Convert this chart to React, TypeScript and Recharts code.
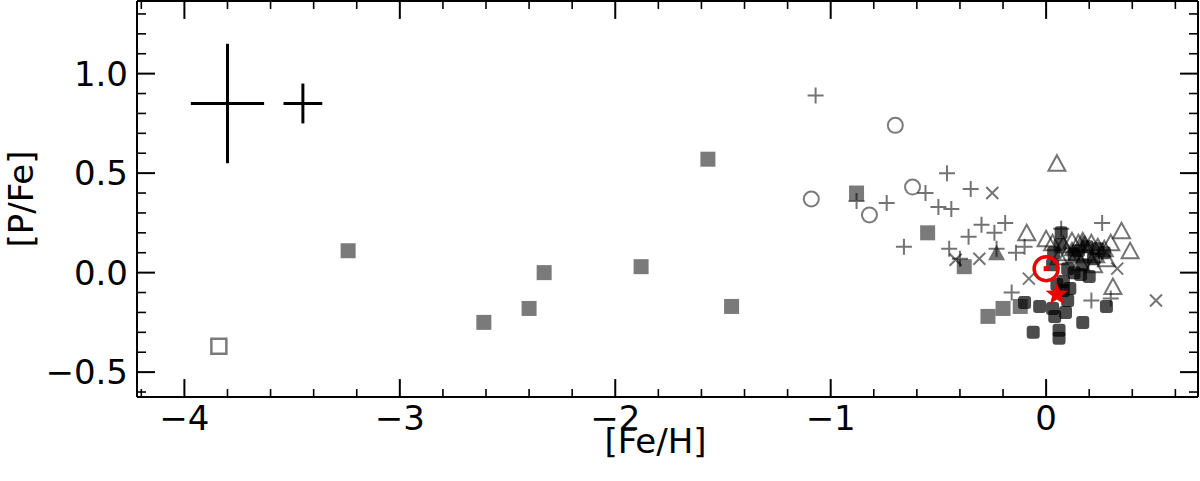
import { ScatterChart, Scatter, XAxis, YAxis, ErrorBar, ReferenceLine } from "recharts";

const FONT = "DejaVu Sans, sans-serif";

const X_DOMAIN: [number, number] = [-4.22, 0.705];
const Y_DOMAIN: [number, number] = [-0.625, 1.365];

// tick values
const xMajor = [-4, -3, -2, -1, 0];
const xMinor = [
  -4.2, -3.8, -3.6, -3.4, -3.2, -2.8, -2.6, -2.4, -2.2, -1.8, -1.6, -1.4, -1.2,
  -0.8, -0.6, -0.4, -0.2, 0.2, 0.4, 0.6,
];
const yMajor = [-0.5, 0, 0.5, 1.0];
const yMinor = [
  -0.6, -0.4, -0.3, -0.2, -0.1, 0.1, 0.2, 0.3, 0.4, 0.6, 0.7, 0.8, 0.9, 1.1, 1.2, 1.3,
];
// inward tick lengths for the x ticks, in [P/Fe] units
const MAJOR_LEN = 0.09;
const MINOR_LEN = 0.04;

// filled grey squares
const sqFeH = [-3.24, -2.61, -2.4, -2.33, -1.88, -1.57, -1.46, -0.88, -0.55, -0.38, -0.27, -0.2, -0.12];
const sqPFe = [0.11, -0.25, -0.18, 0.0, 0.03, 0.57, -0.17, 0.4, 0.2, 0.03, -0.22, -0.18, -0.17];

// open square
const openSqFeH = [-3.84];
const openSqPFe = [-0.37];

// open circles
const circFeH = [-1.09, -0.82, -0.7, -0.62];
const circPFe = [0.37, 0.29, 0.74, 0.43];

// plus
const plusFeH = [
  -1.07, -0.88, -0.74, -0.56, -0.46, -0.35, -0.5, -0.44, -0.3, -0.19, -0.36, -0.24, -0.66, -0.45,
  -0.4, -0.14, -0.23, -0.16, 0.26, 0.07, 0.21, 0.3, -0.1,
];
const plusPFe = [
  0.89, 0.36, 0.35, 0.4, 0.5, 0.42, 0.33, 0.32, 0.24, 0.25, 0.18, 0.2, 0.13, 0.12, 0.07, 0.1, 0.12,
  -0.1, 0.25, 0.22, -0.14, -0.13, 0.13,
];

// x markers
const crossFeH = [-0.25, -0.31, -0.42, -0.08, 0.33, 0.51];
const crossPFe = [0.4, 0.07, 0.065, -0.03, 0.02, -0.14];

// open triangles
const triFeH = [
  0.05, 0.35, 0.39, 0.3, 0.31, -0.09, 0.0, 0.03, 0.08, 0.12, 0.15, 0.18, 0.21, 0.24, 0.27, 0.1,
  0.14, 0.19, 0.23, 0.06, 0.28, 0.16, 0.22,
];
const triPFe = [
  0.55, 0.21, 0.11, 0.15, -0.07, 0.2, 0.17, 0.15, 0.14, 0.16, 0.15, 0.14, 0.15, 0.13, 0.12, 0.1,
  0.09, 0.1, 0.09, 0.08, 0.07, 0.05, 0.04,
];

// filled triangles
const triFillFeH = [-0.23, 0.17, 0.12];
const triFillPFe = [0.1, 0.17, 0.12];

// dark rounded squares
const darkFeH = [
  0.07, 0.13, 0.17, 0.1, 0.16, 0.22, 0.27, 0.035, 0.03, 0.08, 0.11, 0.2, 0.065, 0.19, 0.08, 0.1,
  0.03, 0.04, 0.09, 0.17, 0.06, 0.06, -0.06, -0.03, -0.1, 0.28, 0.13, 0.05, 0.15, 0.24,
];
const darkPFe = [
  0.2, 0.09, 0.04, 0.02, -0.01, 0.07, 0.1, 0.1, 0.04, -0.045, -0.08, -0.02, 0.14, 0.13, -0.09,
  -0.14, -0.18, -0.22, -0.2, -0.25, -0.29, -0.33, -0.3, -0.17, -0.15, -0.17, 0.0, -0.06, 0.11, 0.12,
];

// sun and star
const sunFeH = [0.0];
const sunPFe = [0.02];
const starFeH = [0.05];
const starPFe = [-0.11];

// typical uncertainties
const errFeH = [-3.8, -3.45];
const errPFe = [0.85, 0.85];
const errX = [0.17, 0.09];
const errY = [0.3, 0.1];

const pts = (xs: number[], ys: number[]) => xs.map((x, i) => ({ x, y: ys[i] }));
const errData = errFeH.map((x, i) => ({ x, y: errPFe[i], ex: errX[i], ey: errY[i] }));

const fmt = (v: number, d: number) => (v < 0 ? "\u2212" + Math.abs(v).toFixed(d) : v.toFixed(d));

const GREY = "#000";
const GA = 0.52;

const SquareShape = (p: any) => (
  <rect x={p.cx - 7.5} y={p.cy - 7.5} width={15} height={15} fill={GREY} fillOpacity={GA} />
);
const OpenSquareShape = (p: any) => (
  <rect x={p.cx - 7.5} y={p.cy - 7.5} width={15} height={15} fill="none" stroke={GREY} strokeOpacity={GA} strokeWidth={2.5} />
);
const CircleShape = (p: any) => (
  <circle cx={p.cx} cy={p.cy} r={7.5} fill="none" stroke={GREY} strokeOpacity={GA} strokeWidth={2} />
);
const PlusShape = (p: any) => (
  <path
    d={`M${p.cx - 8},${p.cy}H${p.cx + 8}M${p.cx},${p.cy - 8}V${p.cy + 8}`}
    stroke={GREY}
    strokeOpacity={0.55}
    strokeWidth={2}
    fill="none"
  />
);
const XShape = (p: any) => (
  <path
    d={`M${p.cx - 6},${p.cy - 6}L${p.cx + 6},${p.cy + 6}M${p.cx - 6},${p.cy + 6}L${p.cx + 6},${p.cy - 6}`}
    stroke={GREY}
    strokeOpacity={0.55}
    strokeWidth={2}
    fill="none"
  />
);
const TriShape = (p: any) => (
  <path
    d={`M${p.cx},${p.cy - 8}L${p.cx - 8.5},${p.cy + 7.5}L${p.cx + 8.5},${p.cy + 7.5}Z`}
    fill="none"
    stroke={GREY}
    strokeOpacity={0.55}
    strokeWidth={2}
  />
);
const TriFillShape = (p: any) => (
  <path
    d={`M${p.cx},${p.cy - 8}L${p.cx - 8.5},${p.cy + 7.5}L${p.cx + 8.5},${p.cy + 7.5}Z`}
    fill={GREY}
    fillOpacity={0.55}
  />
);
const DarkShape = (p: any) => (
  <rect x={p.cx - 6.5} y={p.cy - 6.5} width={13} height={13} rx={3} fill="#000" fillOpacity={0.7} />
);
const SunShape = (p: any) => (
  <g>
    <circle cx={p.cx} cy={p.cy} r={12} fill="none" stroke="#ee0000" strokeWidth={3.5} />
    <rect x={p.cx - 2.5} y={p.cy - 2.5} width={5} height={5} fill="#ee0000" />
  </g>
);
const StarShape = (p: any) => {
  const R = 12;
  const r = 5;
  let d = "";
  for (let i = 0; i < 10; i++) {
    const a = -Math.PI / 2 + (i * Math.PI) / 5;
    const rr = i % 2 === 0 ? R : r;
    d += `${i === 0 ? "M" : "L"}${p.cx + rr * Math.cos(a)},${p.cy + rr * Math.sin(a)}`;
  }
  return <path d={d + "Z"} fill="#ee0000" />;
};
const NoShape = () => <g />;
const NoTick = () => <g />;

const YLabel = (props: any) => {
  const vb = props.viewBox;
  const cx = vb.x + 21;
  const cy = vb.y + vb.height / 2;
  return (
    <text
      x={cx}
      y={cy}
      transform={`rotate(-90, ${cx}, ${cy})`}
      textAnchor="middle"
      dominantBaseline="central"
      fontSize={34}
      fontFamily={FONT}
      fill="#000"
    >
      [P/Fe]
    </text>
  );
};

const XLabel = (props: any) => {
  const vb = props.viewBox;
  return (
    <text
      x={vb.x + vb.width / 2 - 12}
      y={vb.y + vb.height - 28}
      textAnchor="middle"
      fontSize={34}
      fontFamily={FONT}
      fill="#000"
    >
      [Fe/H]
    </text>
  );
};

const tickLine = { stroke: "#000", strokeWidth: 2 };
const minorLine = { stroke: "#000", strokeWidth: 1.6 };
const frame = { stroke: "#000", strokeWidth: 2 };

// inward x ticks on the bottom and top edges
const xTickLines = (values: number[], len: number, width: number, key: string) =>
  values.flatMap((v) => [
    <ReferenceLine
      key={`${key}b${v}`}
      xAxisId="x"
      yAxisId="y"
      segment={[{ x: v, y: Y_DOMAIN[0] }, { x: v, y: Y_DOMAIN[0] + len }]}
      stroke="#000"
      strokeWidth={width}
      ifOverflow="visible"
    />,
    <ReferenceLine
      key={`${key}t${v}`}
      xAxisId="x"
      yAxisId="y"
      segment={[{ x: v, y: Y_DOMAIN[1] }, { x: v, y: Y_DOMAIN[1] - len }]}
      stroke="#000"
      strokeWidth={width}
      ifOverflow="visible"
    />,
  ]);

export default function App() {
  const common = { type: "number" as const, allowDataOverflow: true, interval: 0 as const };
  return (
    <div style={{ position: "absolute", left: 0, top: 0, background: "#fff" }}>
      <ScatterChart width={1200} height={481} margin={{ top: 1, right: 2, bottom: 0, left: 0 }}>
        <XAxis
          {...common}
          xAxisId="x"
          dataKey="x"
          domain={X_DOMAIN}
          ticks={xMajor}
          height={84}
          tickLine={false}
          tickSize={0}
          tickMargin={9}
          axisLine={frame}
          tick={{ fontSize: 34, fill: "#000", fontFamily: FONT }}
          tickFormatter={(v: number) => fmt(v, 0)}
          label={{ content: XLabel }}
        />
        <YAxis
          {...common}
          yAxisId="y"
          dataKey="y"
          domain={Y_DOMAIN}
          ticks={yMajor}
          width={137}
          tickLine={false}
          tickSize={0}
          tickMargin={9}
          axisLine={frame}
          tick={{ fontSize: 34, fill: "#000", fontFamily: FONT }}
          tickFormatter={(v: number) => fmt(v, 1)}
          label={{ content: YLabel }}
        />
        <YAxis {...common} yAxisId="yl1" domain={Y_DOMAIN} ticks={yMajor} orientation="left" mirror width={1} tick={NoTick} tickSize={18} axisLine={false} tickLine={tickLine} />
        <YAxis {...common} yAxisId="yl2" domain={Y_DOMAIN} ticks={yMinor} orientation="left" mirror width={1} tick={NoTick} tickSize={8} axisLine={false} tickLine={minorLine} />
        <YAxis {...common} yAxisId="yr1" domain={Y_DOMAIN} ticks={yMajor} orientation="right" mirror width={1} tick={NoTick} tickSize={18} axisLine={frame} tickLine={tickLine} />
        <YAxis {...common} yAxisId="yr2" domain={Y_DOMAIN} ticks={yMinor} orientation="right" mirror width={1} tick={NoTick} tickSize={8} axisLine={false} tickLine={minorLine} />

        <ReferenceLine xAxisId="x" yAxisId="y" y={Y_DOMAIN[1]} stroke="#000" strokeWidth={2} ifOverflow="visible" />
        {xTickLines(xMajor, MAJOR_LEN, 2, "M")}
        {xTickLines(xMinor, MINOR_LEN, 1.6, "m")}

        <Scatter xAxisId="x" yAxisId="y" data={pts(sqFeH, sqPFe)} shape={SquareShape} isAnimationActive={false} />
        <Scatter xAxisId="x" yAxisId="y" data={pts(openSqFeH, openSqPFe)} shape={OpenSquareShape} isAnimationActive={false} />
        <Scatter xAxisId="x" yAxisId="y" data={pts(circFeH, circPFe)} shape={CircleShape} isAnimationActive={false} />
        <Scatter xAxisId="x" yAxisId="y" data={pts(triFeH, triPFe)} shape={TriShape} isAnimationActive={false} />
        <Scatter xAxisId="x" yAxisId="y" data={pts(triFillFeH, triFillPFe)} shape={TriFillShape} isAnimationActive={false} />
        <Scatter xAxisId="x" yAxisId="y" data={pts(plusFeH, plusPFe)} shape={PlusShape} isAnimationActive={false} />
        <Scatter xAxisId="x" yAxisId="y" data={pts(crossFeH, crossPFe)} shape={XShape} isAnimationActive={false} />
        <Scatter xAxisId="x" yAxisId="y" data={pts(darkFeH, darkPFe)} shape={DarkShape} isAnimationActive={false} />
        <Scatter xAxisId="x" yAxisId="y" data={pts(sunFeH, sunPFe)} shape={SunShape} isAnimationActive={false} />
        <Scatter xAxisId="x" yAxisId="y" data={pts(starFeH, starPFe)} shape={StarShape} isAnimationActive={false} />
        <Scatter xAxisId="x" yAxisId="y" data={errData} shape={NoShape} isAnimationActive={false}>
          <ErrorBar dataKey="ex" direction="x" width={0} stroke="#000" strokeWidth={3} isAnimationActive={false} />
          <ErrorBar dataKey="ey" direction="y" width={0} stroke="#000" strokeWidth={3} isAnimationActive={false} />
        </Scatter>
      </ScatterChart>
    </div>
  );
}
